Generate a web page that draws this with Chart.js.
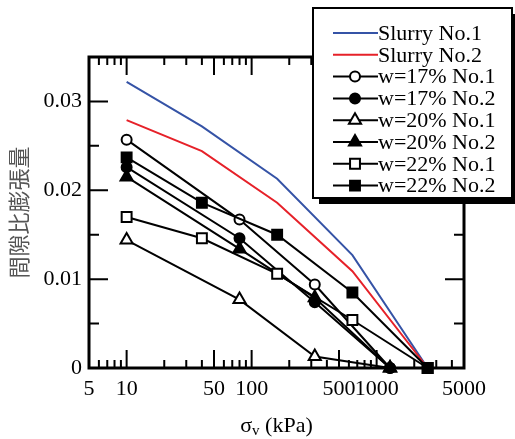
<!DOCTYPE html>
<html>
<head>
<meta charset="utf-8">
<script src="https://cdn.jsdelivr.net/npm/chart.js@4.4.0/dist/chart.umd.min.js"></script>
<style>
  body { margin: 0; background: #fff; }
  #wrap { width: 515px; height: 439px; }
</style>
</head>
<body>
<div id="wrap"><canvas id="swellChart" width="515" height="439"></canvas></div>
<script>
// vertical stress steps (kPa) used by each group of tests
const xSlurry = [10, 40, 160, 640, 2560];
const xW17 = [10, 80, 320, 1280];
const xW20 = [10, 80, 320, 1280];
const xW22 = [10, 40, 160, 640, 2560];

// swelling of void ratio
const slurryNo1 = [0.0322, 0.0272, 0.0213, 0.0127, 0];
const slurryNo2 = [0.0279, 0.0244, 0.0186, 0.0109, 0];
const w17No1 = [0.0257, 0.0167, 0.0094, 0];
const w17No2 = [0.0226, 0.0146, 0.0074, 0];
const w20No1 = [0.0144, 0.0077, 0.0013, 0];
const w20No2 = [0.0215, 0.0134, 0.0079, 0];
const w22No1 = [0.0170, 0.0146, 0.0106, 0.0054, 0];
const w22No2 = [0.0237, 0.0186, 0.0150, 0.0085, 0];

// axis ticks
const xTickValues = [5, 10, 50, 100, 500, 1000, 5000];
const yTickValues = [0, 0.01, 0.02, 0.03];

const SERIF = '"Liberation Serif", "Times New Roman", serif';

function toPoints(xs, ys) {
    return xs.map((x, i) => ({ x: x, y: ys[i] }));
}

function makeSet(label, xs, ys, color, style, filled, radius) {
    return {
        label: label,
        data: toPoints(xs, ys),
        borderColor: color,
        borderWidth: 2,
        pointStyle: style || false,
        pointRadius: style ? radius : 0,
        pointBorderWidth: 2,
        pointBorderColor: color,
        pointBackgroundColor: filled ? color : '#fff',
        fill: false,
        tension: 0,
        clip: false
    };
}

const datasets = [
    makeSet('Slurry No.1', xSlurry, slurryNo1, '#3553a6', null),
    makeSet('Slurry No.2', xSlurry, slurryNo2, '#e62129', null),
    makeSet('w=17% No.1', xW17, w17No1, '#000', 'circle', false, 5),
    makeSet('w=17% No.2', xW17, w17No2, '#000', 'circle', true, 5),
    makeSet('w=20% No.1', xW20, w20No1, '#000', 'triangle', false, 7),
    makeSet('w=20% No.2', xW20, w20No2, '#000', 'triangle', true, 7),
    makeSet('w=22% No.1', xW22, w22No1, '#000', 'rect', false, 7),
    makeSet('w=22% No.2', xW22, w22No2, '#000', 'rect', true, 7)
];
// later series drawn on top (lower order = drawn last)
datasets.forEach((ds, i) => { ds.order = datasets.length - i; });

// Frame with inward ticks on all four sides
const frameTicks = {
    id: 'frameTicks',
    beforeDatasetsDraw(chart) {
        const ctx = chart.ctx;
        const a = chart.chartArea;
        const xs = chart.scales.x;
        const ys = chart.scales.y;
        ctx.save();
        ctx.strokeStyle = '#000';
        ctx.lineWidth = 2;
        ctx.beginPath();
        // x ticks (log minor ticks)
        for (let d = 1; d <= 1000; d *= 10) {
            for (let m = 1; m <= 9; m++) {
                const v = m * d;
                if (v <= 5 || v >= 5000) continue;
                const px = xs.getPixelForValue(v);
                const len = xTickValues.includes(v) ? 18 : 8;
                ctx.moveTo(px, a.bottom);
                ctx.lineTo(px, a.bottom - len);
                ctx.moveTo(px, a.top);
                ctx.lineTo(px, a.top + len);
            }
        }
        // y ticks every 0.005
        for (let i = 1; i < 7; i++) {
            const v = i * 0.005;
            const py = ys.getPixelForValue(v);
            const len = i % 2 === 0 ? 19 : 10;
            ctx.moveTo(a.left, py);
            ctx.lineTo(a.left + len, py);
            ctx.moveTo(a.right, py);
            ctx.lineTo(a.right - len, py);
        }
        ctx.stroke();
        ctx.lineWidth = 3;
        ctx.strokeRect(a.left, a.top, a.right - a.left, a.bottom - a.top);
        ctx.restore();
    },
    afterDraw(chart) {
        const ctx = chart.ctx;
        const a = chart.chartArea;
        ctx.save();
        // x axis title with subscript
        ctx.fillStyle = '#000';
        ctx.textBaseline = 'alphabetic';
        const big = '22px ' + SERIF;
        const small = '15px ' + SERIF;
        ctx.font = big;
        const wS = ctx.measureText('σ').width;
        const wRest = ctx.measureText(' (kPa)').width;
        ctx.font = small;
        const wV = ctx.measureText('v').width;
        let x0 = (a.left + a.right) / 2 - (wS + wV + wRest) / 2;
        const base = 432;
        ctx.font = big;
        ctx.fillText('σ', x0, base);
        ctx.font = small;
        ctx.fillText('v', x0 + wS, base + 3);
        ctx.font = big;
        ctx.fillText(' (kPa)', x0 + wS + wV, base);

        // y axis title (vertical)
        ctx.translate(19, (a.top + a.bottom) / 2);
        ctx.rotate(-Math.PI / 2);
        ctx.font = '22px "Noto Sans CJK JP", sans-serif';
        ctx.fillStyle = '#555';
        ctx.textAlign = 'center';
        ctx.textBaseline = 'middle';
        ctx.fillText('間隙比膨張量', 0, 0);
        ctx.restore();

        // legend box
        const bx = 313, by = 8, bw = 199, bh = 190;
        ctx.save();
        ctx.fillStyle = '#000';
        ctx.fillRect(bx + 6, by + 6, bw, bh);
        ctx.fillStyle = '#fff';
        ctx.fillRect(bx, by, bw, bh);
        ctx.lineWidth = 2;
        ctx.strokeStyle = '#000';
        ctx.strokeRect(bx, by, bw, bh);
        ctx.font = '22px ' + SERIF;
        ctx.textBaseline = 'middle';
        chart.data.datasets.forEach((ds, i) => {
            const y = 33 + i * 21.8;
            ctx.strokeStyle = ds.borderColor;
            ctx.lineWidth = 2;
            ctx.beginPath();
            ctx.moveTo(333, y);
            ctx.lineTo(378, y);
            ctx.stroke();
            if (ds.pointStyle) {
                ctx.fillStyle = ds.pointBackgroundColor;
                ctx.strokeStyle = ds.pointBorderColor;
                Chart.helpers.drawPoint(ctx, {
                    pointStyle: ds.pointStyle,
                    radius: ds.pointRadius,
                    borderWidth: 2,
                    rotation: 0
                }, 355, y);
            }
            ctx.fillStyle = '#000';
            ctx.fillText(ds.label, 378, y + 1);
        });
        ctx.restore();
    }
};

new Chart(document.getElementById('swellChart'), {
    type: 'line',
    data: { datasets: datasets },
    options: {
        responsive: false,
        animation: false,
        devicePixelRatio: 1,
        layout: { padding: { left: 0, top: 57, right: 51, bottom: 0 } },
        plugins: {
            legend: { display: false },
            tooltip: { enabled: false }
        },
        scales: {
            x: {
                type: 'logarithmic',
                min: 5,
                max: 5000,
                afterBuildTicks: (scale) => {
                    scale.ticks = xTickValues.map(v => ({ value: v }));
                },
                afterFit: (scale) => { scale.height = 71; },
                grid: { display: false, drawTicks: false },
                border: { display: false },
                ticks: {
                    autoSkip: false,
                    maxRotation: 0,
                    padding: 8,
                    color: '#000',
                    font: { family: SERIF, size: 22 },
                    callback: (v) => String(v)
                }
            },
            y: {
                type: 'linear',
                min: 0,
                max: 0.035,
                afterBuildTicks: (scale) => {
                    scale.ticks = yTickValues.map(v => ({ value: v }));
                },
                afterFit: (scale) => { scale.width = 89; },
                grid: { display: false, drawTicks: false },
                border: { display: false },
                ticks: {
                    padding: 7,
                    color: '#000',
                    font: { family: SERIF, size: 22 },
                    callback: (v) => String(v)
                }
            }
        }
    },
    plugins: [frameTicks]
});
</script>
</body>
</html>
